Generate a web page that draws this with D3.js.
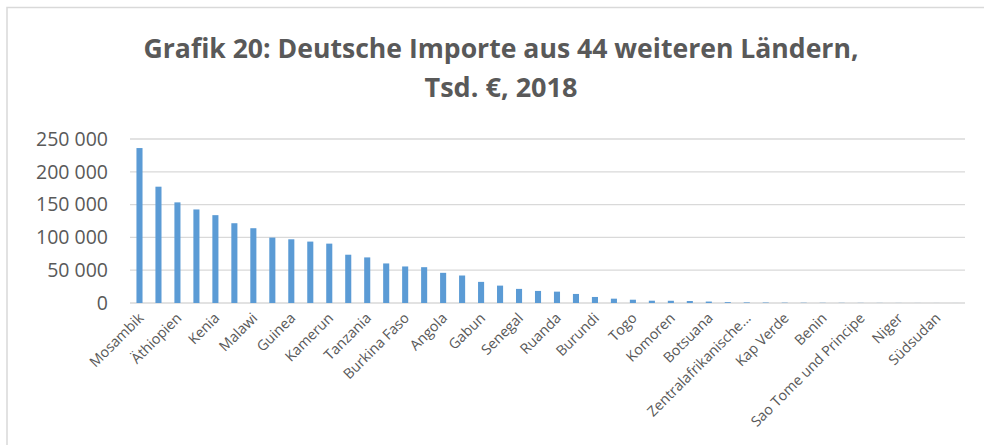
<!DOCTYPE html>
<html>
<head>
<meta charset="utf-8">
<script src="https://cdn.jsdelivr.net/npm/d3@7"></script>
<style>
  html, body { margin: 0; padding: 0; background: #fff; }
  svg { display: block; }
</style>
</head>
<body>
<div id="chart"></div>
<script>
// countries, sorted by import value (Tsd. €); only every second one is labelled on the axis
const countries = [
  'Mosambik', 'Madagaskar', 'Äthiopien', 'Uganda', 'Kenia', 'Namibia', 'Malawi', 'Mauritius',
  'Guinea', 'Kongo, Dem. Rep.', 'Kamerun', 'Sambia', 'Tanzania', 'Liberia', 'Burkina Faso',
  'Äquatorialguinea', 'Angola', 'Simbabwe', 'Gabun', 'Kongo, Rep.', 'Senegal', 'Mali', 'Ruanda',
  'Sierra Leone', 'Burundi', 'Mauretanien', 'Togo', 'Eswatini', 'Komoren', 'Seychellen',
  'Botsuana', 'Lesotho', 'Zentralafrikanische Republik', 'Tschad', 'Kap Verde', 'Gambia',
  'Benin', 'Guinea-Bissau', 'Sao Tome und Principe', 'Eritrea', 'Niger', 'Dschibuti',
  'Südsudan', 'Somalia'
];
const imports = [
  236200, 177300, 153400, 142600, 133900, 121600, 114000, 99700,
  97100, 93600, 90500, 73600, 69500, 60300, 55700,
  54600, 46000, 41900, 32200, 26500, 21500, 18400, 17300,
  13800, 9200, 6600, 5000, 3500, 3400, 3000,
  2200, 1300, 900, 700, 500, 400,
  300, 250, 200, 150, 120, 80,
  50, 30
];
const yTicks = [0, 50000, 100000, 150000, 200000, 250000];
const titleLines = ['Grafik 20: Deutsche Importe aus 44 weiteren Ländern,', 'Tsd. €, 2018'];

const W = 984, H = 445;
const margin = { top: 139, right: 19, bottom: 142, left: 130 };

const svg = d3.select('#chart').append('svg').attr('width', W).attr('height', H);

// chart frame (only left/top edges are inside the picture)
svg.append('rect').attr('x', 7).attr('y', 7.5).attr('width', W + 20).attr('height', H + 20)
  .attr('fill', '#fff').attr('stroke', '#d9d9d9').attr('stroke-width', 1.5);

const x = d3.scaleBand().domain(countries)
  .range([margin.left, W - margin.right]).paddingInner(0.68).paddingOuter(0.34);
const y = d3.scaleLinear().domain([0, 250000]).range([H - margin.bottom, margin.top]);

const fmt = d3.formatLocale({ decimal: ',', thousands: '\u00a0', grouping: [3], currency: ['', '€'] }).format(',');

// gridlines
svg.append('g').selectAll('line').data(yTicks).join('line')
  .attr('x1', margin.left).attr('x2', W - margin.right)
  .attr('y1', d => y(d)).attr('y2', d => y(d))
  .attr('stroke', '#d9d9d9').attr('stroke-width', 1.3);

// y axis labels
const yAxis = svg.append('g').attr('transform', `translate(${margin.left - 22},0)`)
  .call(d3.axisLeft(y).tickValues(yTicks).tickFormat(fmt).tickSize(0).tickPadding(0));
yAxis.select('.domain').remove();
yAxis.selectAll('text').attr('fill', '#595959')
  .style('font-family', '"Open Sans", sans-serif').style('font-size', '19.5px');

// bars
svg.append('g').selectAll('rect').data(imports).join('rect')
  .attr('x', (d, i) => x(countries[i]))
  .attr('width', x.bandwidth())
  .attr('y', d => y(d))
  .attr('height', d => y(0) - y(d))
  .attr('fill', '#5b9bd5');

// x axis labels (every second category), long names cut like Excel does
const shortLabel = s => s.length > 24 ? s.split(' ')[0] + '...' : s;
const xAxis = svg.append('g').attr('transform', `translate(0,${y(0)})`)
  .call(d3.axisBottom(x).tickValues(countries.filter((c, i) => i % 2 === 0))
    .tickFormat(shortLabel).tickSize(0).tickPadding(0));
xAxis.select('.domain').remove();
xAxis.selectAll('text')
  .attr('fill', '#595959')
  .attr('text-anchor', 'end')
  .attr('dy', null)
  .attr('transform', 'translate(5,16) rotate(-45)')
  .style('font-family', '"Open Sans", sans-serif').style('font-size', '14.3px');

// title
const title = svg.append('g').attr('fill', '#595959')
  .style('font-family', '"Open Sans", sans-serif').style('font-weight', 700);
title.selectAll('text').data(titleLines).join('text')
  .attr('x', 501).attr('y', (d, i) => 58 + i * 39)
  .attr('text-anchor', 'middle')
  .style('font-size', '26px')
  .attr('textLength', (d, i) => i === 0 ? 715 : 153)
  .attr('lengthAdjust', 'spacingAndGlyphs')
  .text(d => d);
</script>
</body>
</html>
